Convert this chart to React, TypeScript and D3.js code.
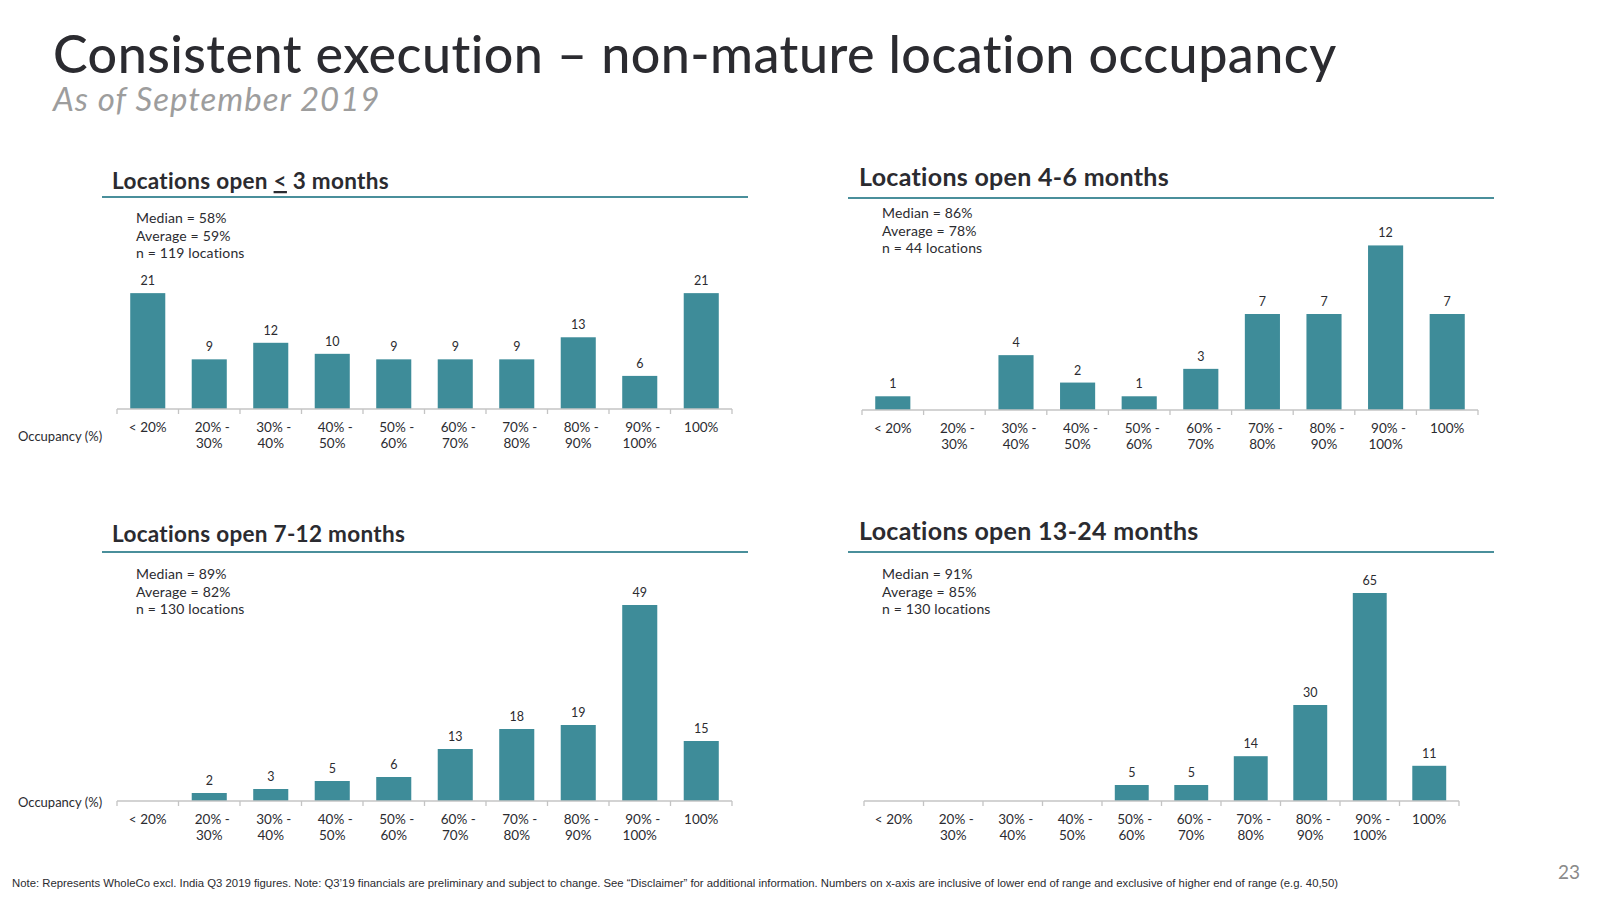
import React from 'react';
import * as d3 from 'd3';

// ---------- data ----------
const categories = ['< 20%', '20% - 30%', '30% - 40%', '40% - 50%', '50% - 60%', '60% - 70%', '70% - 80%', '80% - 90%', '90% - 100%', '100%'];

const panelTitles = ['Locations open ≤ 3 months', 'Locations open 4-6 months', 'Locations open 7-12 months', 'Locations open 13-24 months'];

const valuesUpTo3 = [21, 9, 12, 10, 9, 9, 9, 13, 6, 21];
const values4to6 = [1, 0, 4, 2, 1, 3, 7, 7, 12, 7];
const values7to12 = [0, 2, 3, 5, 6, 13, 18, 19, 49, 15];
const values13to24 = [0, 0, 0, 0, 5, 5, 14, 30, 65, 11];
const panelValues = [valuesUpTo3, values4to6, values7to12, values13to24];

const medians = ['58%', '86%', '89%', '91%'];
const averages = ['59%', '78%', '82%', '85%'];
const counts = ['119', '44', '130', '130'];

// y-axis domain maximum of each panel (each panel has its own scale)
const yDomainMax = [43.5, 17.5, 60, 75];

const mainTitle = 'Consistent execution – non-mature location occupancy';
const subTitle = 'As of September 2019';
const axisName = 'Occupancy (%)';
const footnote = 'Note: Represents WholeCo excl. India Q3 2019 figures. Note: Q3’19 financials are preliminary and subject to change. See “Disclaimer” for additional information. Numbers on x-axis are inclusive of lower end of range and exclusive of higher end of range (e.g. 40,50)';
const pageNumber = '23';

// ---------- layout ----------
const layouts = [
  { titleX: 112, titleY: 189, titleSize: 22.5, lineX1: 102, lineX2: 748, lineY: 197, statsX: 136, statsY: 223, x0: 117, x1: 732, axisY: 409, occY: 441 },
  { titleX: 859, titleY: 186, titleSize: 25, lineX1: 848, lineX2: 1494, lineY: 198, statsX: 882, statsY: 218, x0: 862, x1: 1478, axisY: 410, occY: null },
  { titleX: 112, titleY: 542, titleSize: 22.5, lineX1: 102, lineX2: 748, lineY: 552, statsX: 136, statsY: 579, x0: 117, x1: 732, axisY: 801, occY: 807 },
  { titleX: 859, titleY: 540, titleSize: 25, lineX1: 848, lineX2: 1494, lineY: 552, statsX: 882, statsY: 579, x0: 864, x1: 1459, axisY: 801, occY: null },
];

const PLOT_H = 240;
const TEAL = '#3e8c99';
const LINE_TEAL = '#4a8f9b';
const DARK = '#2b2b30';
const FONT = 'Lato, "Open Sans", sans-serif';
const noLig = { fontVariantLigatures: 'none' } as React.CSSProperties;

function Panel({ idx }: { idx: number }) {
  const L = layouts[idx];
  const values = panelValues[idx];
  const x = d3.scaleBand<string>().domain(categories).range([L.x0, L.x1]).paddingInner(0.43).paddingOuter(0.215);
  const y = d3.scaleLinear().domain([0, yDomainMax[idx]]).range([L.axisY, L.axisY - PLOT_H]);
  const step = x.step();
  const ticks = d3.range(categories.length + 1).map((i) => L.x0 + i * step);
  const stats = [`Median = ${medians[idx]}`, `Average = ${averages[idx]}`, `n = ${counts[idx]} locations`];
  const title = panelTitles[idx];
  const leIdx = title.indexOf('≤');
  return (
    <g>
      <text x={L.titleX} y={L.titleY} fontFamily={FONT} fontWeight={700} fontSize={L.titleSize} letterSpacing={0.3} fill={DARK} style={noLig}>
        {leIdx >= 0 ? (
          <>
            {title.slice(0, leIdx)}
            <tspan style={{ textDecoration: 'underline' }}>{'<'}</tspan>
            {title.slice(leIdx + 1)}
          </>
        ) : (
          title
        )}
      </text>
      <line x1={L.lineX1} x2={L.lineX2} y1={L.lineY} y2={L.lineY} stroke={LINE_TEAL} strokeWidth={2.2} />
      {stats.map((s, i) => (
        <text key={i} x={L.statsX} y={L.statsY + i * 17.5} fontFamily={FONT} fontSize={14} letterSpacing={0.15} fill={DARK}>
          {s}
        </text>
      ))}
      {values.map((v, i) =>
        v > 0 ? (
          <g key={i}>
            <rect x={x(categories[i])} y={y(v)} width={x.bandwidth()} height={L.axisY - y(v)} fill={TEAL} />
            <text x={(x(categories[i]) as number) + x.bandwidth() / 2} y={y(v) - 8} textAnchor="middle" fontFamily={FONT} fontSize={12.5} fill={DARK}>
              {v}
            </text>
          </g>
        ) : null
      )}
      <line x1={L.x0} x2={L.x1} y1={L.axisY} y2={L.axisY} stroke="#c4c4c4" strokeWidth={1.3} />
      {ticks.map((t, i) => (
        <line key={i} x1={t} x2={t} y1={L.axisY} y2={L.axisY + 5} stroke="#c4c4c4" strokeWidth={1.3} />
      ))}
      {categories.map((c, i) => {
        const parts = c.includes(' - ') ? [c.split(' - ')[0] + ' -', c.split(' - ')[1]] : [c];
        const cx = (x(c) as number) + x.bandwidth() / 2;
        return (
          <text key={c} textAnchor="middle" fontFamily={FONT} fontSize={13.5} fill={DARK}>
            {parts.map((p, j) => (
              <tspan key={j} x={cx + (j === 0 && parts.length > 1 ? 3 : 0)} y={L.axisY + 23 + j * 16}>
                {p}
              </tspan>
            ))}
          </text>
        );
      })}
      {L.occY !== null && (
        <text x={18} y={L.occY} fontFamily={FONT} fontSize={13} fill={DARK}>
          {axisName}
        </text>
      )}
    </g>
  );
}

export default function App() {
  return (
    <svg width={1600} height={900} style={{ position: 'absolute', left: 0, top: 0, background: '#fff' }}>
      <rect width={1600} height={900} fill="#fff" />
      <text x={53} y={73} fontFamily={FONT} fontWeight={500} fontSize={52} letterSpacing={0.45} fill={DARK} style={noLig}>
        {mainTitle}
      </text>
      <text x={53} y={111} fontFamily={FONT} fontStyle="italic" fontSize={33} letterSpacing={1} fill="#9d9d9d">
        {subTitle}
      </text>
      {layouts.map((_, i) => (
        <Panel key={i} idx={i} />
      ))}
      <text x={12} y={887} fontFamily={'"Liberation Sans Narrow", "Liberation Sans", sans-serif'} fontSize={10} fill={DARK} textLength={1326} lengthAdjust="spacingAndGlyphs">
        {footnote}
      </text>
      <text x={1580} y={879} textAnchor="end" fontFamily={FONT} fontSize={19} fill="#8a8a8a">
        {pageNumber}
      </text>
    </svg>
  );
}
